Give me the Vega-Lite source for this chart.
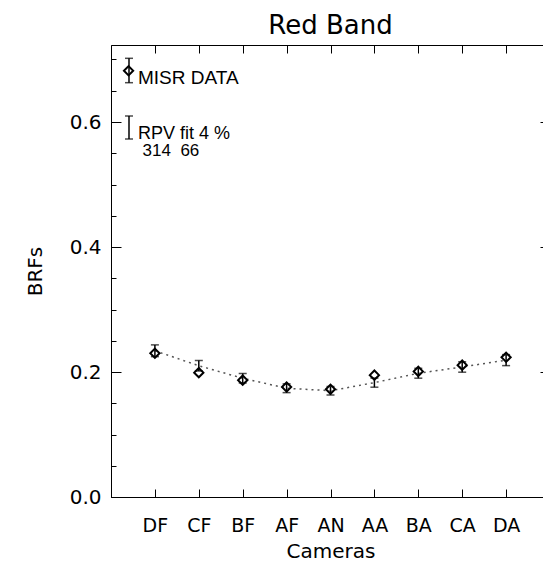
{
  "$schema": "https://vega.github.io/schema/vega-lite/v6.json",
  "width": 439,
  "height": 452,
  "autosize": {"type": "none"},
  "padding": {"left": 111, "top": 45, "right": 0, "bottom": 64},
  "background": "white",
  "title": {"text": "Red Band", "font": "DejaVu Sans", "fontSize": 26, "fontWeight": "normal", "color": "black", "offset": 6, "anchor": "middle"},
  "datasets": {
    "cams": [
      {"pos": 1, "cam": "DF", "data": 0.230, "fit": 0.234, "flo": 0.2246, "fhi": 0.2434},
      {"pos": 2, "cam": "CF", "data": 0.199, "fit": 0.210, "flo": 0.2016, "fhi": 0.2184},
      {"pos": 3, "cam": "BF", "data": 0.187, "fit": 0.190, "flo": 0.1824, "fhi": 0.1976},
      {"pos": 4, "cam": "AF", "data": 0.176, "fit": 0.174, "flo": 0.1670, "fhi": 0.1810},
      {"pos": 5, "cam": "AN", "data": 0.1725, "fit": 0.170, "flo": 0.1632, "fhi": 0.1768},
      {"pos": 6, "cam": "AA", "data": 0.195, "fit": 0.183, "flo": 0.1757, "fhi": 0.1903},
      {"pos": 7, "cam": "BA", "data": 0.201, "fit": 0.198, "flo": 0.1901, "fhi": 0.2059},
      {"pos": 8, "cam": "CA", "data": 0.211, "fit": 0.208, "flo": 0.1997, "fhi": 0.2163},
      {"pos": 9, "cam": "DA", "data": 0.2235, "fit": 0.219, "flo": 0.2102, "fhi": 0.2278}
    ],
    "legbars": [
      {"item": "MISR DATA", "pos": 0.41, "lo": 0.6629, "hi": 0.7019},
      {"item": "RPV fit", "pos": 0.41, "lo": 0.5728, "hi": 0.6096}
    ],
    "legpts": [
      {"item": "MISR DATA", "pos": 0.40, "val": 0.682}
    ],
    "legtext": [
      {"label": "MISR DATA", "pos": 0.615, "val": 0.6712, "size": 19},
      {"label": "RPV fit 4 %", "pos": 0.615, "val": 0.5813, "size": 18},
      {"label": "314 \u00a066", "pos": 0.72, "val": 0.5535, "size": 17}
    ]
  },
  "config": {
    "view": {"stroke": "black", "strokeWidth": 1},
    "axis": {"grid": false, "domainColor": "black", "tickColor": "black", "labelColor": "black", "titleColor": "black", "labelFont": "DejaVu Sans", "titleFont": "DejaVu Sans", "titleFontWeight": "normal", "tickWidth": 1, "domainWidth": 1}
  },
  "resolve": {"axis": {"x": "independent", "y": "independent"}},
  "layer": [
    {
      "data": {"name": "cams"},
      "mark": {"type": "line", "strokeDash": [2, 4], "color": "#555555", "strokeWidth": 1.5},
      "encoding": {
        "x": {"field": "pos", "type": "quantitative",
              "scale": {"domain": [0, 10], "nice": false, "zero": false},
              "axis": {"orient": "bottom", "values": [1, 2, 3, 4, 5, 6, 7, 8, 9],
                       "labelExpr": "['','DF','CF','BF','AF','AN','AA','BA','CA','DA'][datum.value]",
                       "tickSize": -8, "labelPadding": 27, "labelFontSize": 19,
                       "title": "Cameras", "titleFontSize": 20, "titlePadding": 6}},
        "y": {"field": "fit", "type": "quantitative",
              "scale": {"domain": [0, 0.7232], "nice": false, "zero": false},
              "axis": {"orient": "left", "values": [0, 0.2, 0.4, 0.6], "format": ".1f",
                       "tickSize": -10, "labelPadding": 20, "labelFontSize": 20,
                       "title": "BRFs", "titleFontSize": 20, "titlePadding": 24}}
      }
    },
    {
      "data": {"name": "cams"},
      "mark": {"type": "rule", "color": "black", "strokeWidth": 1.5},
      "encoding": {
        "x": {"field": "pos", "type": "quantitative",
              "axis": {"orient": "top", "values": [1, 2, 3, 4, 5, 6, 7, 8, 9], "labels": false,
                       "tickSize": -8, "domain": false, "title": null}},
        "y": {"field": "flo", "type": "quantitative",
              "axis": {"orient": "left", "values": [0.05, 0.1, 0.15, 0.25, 0.3, 0.35, 0.45, 0.5, 0.55, 0.65, 0.7],
                       "labels": false, "tickSize": -5, "domain": false, "title": null}},
        "y2": {"field": "fhi"}
      }
    },
    {
      "data": {"name": "cams"},
      "mark": {"type": "tick", "orient": "horizontal", "color": "black", "size": 8, "thickness": 1.5},
      "encoding": {
        "x": {"field": "pos", "type": "quantitative", "axis": null},
        "y": {"field": "flo", "type": "quantitative",
              "axis": {"orient": "right", "values": [0.2, 0.4, 0.6], "labels": false, "tickSize": -10, "domain": false, "title": null}}
      }
    },
    {
      "data": {"name": "cams"},
      "mark": {"type": "tick", "orient": "horizontal", "color": "black", "size": 8, "thickness": 1.5},
      "encoding": {
        "x": {"field": "pos", "type": "quantitative", "axis": null},
        "y": {"field": "fhi", "type": "quantitative", "axis": null}
      }
    },
    {
      "data": {"name": "cams"},
      "mark": {"type": "point", "shape": "diamond", "filled": false, "color": "black", "strokeWidth": 2, "size": 85, "opacity": 1},
      "encoding": {
        "x": {"field": "pos", "type": "quantitative", "axis": null},
        "y": {"field": "data", "type": "quantitative", "axis": null}
      }
    },
    {
      "data": {"name": "legbars"},
      "mark": {"type": "rule", "color": "black", "strokeWidth": 1.5},
      "encoding": {
        "x": {"field": "pos", "type": "quantitative", "axis": null},
        "y": {"field": "lo", "type": "quantitative", "axis": null},
        "y2": {"field": "hi"}
      }
    },
    {
      "data": {"name": "legbars"},
      "mark": {"type": "tick", "orient": "horizontal", "color": "black", "size": 8, "thickness": 1.5},
      "encoding": {
        "x": {"field": "pos", "type": "quantitative", "axis": null},
        "y": {"field": "lo", "type": "quantitative", "axis": null}
      }
    },
    {
      "data": {"name": "legbars"},
      "mark": {"type": "tick", "orient": "horizontal", "color": "black", "size": 8, "thickness": 1.5},
      "encoding": {
        "x": {"field": "pos", "type": "quantitative", "axis": null},
        "y": {"field": "hi", "type": "quantitative", "axis": null}
      }
    },
    {
      "data": {"name": "legpts"},
      "mark": {"type": "point", "shape": "diamond", "filled": false, "color": "black", "strokeWidth": 2, "size": 85, "opacity": 1},
      "encoding": {
        "x": {"field": "pos", "type": "quantitative", "axis": null},
        "y": {"field": "val", "type": "quantitative", "axis": null}
      }
    },
    {
      "data": {"name": "legtext"},
      "mark": {"type": "text", "align": "left", "baseline": "middle", "font": "Liberation Sans", "color": "black"},
      "encoding": {
        "x": {"field": "pos", "type": "quantitative", "axis": null},
        "y": {"field": "val", "type": "quantitative", "axis": null},
        "text": {"field": "label"},
        "size": {"field": "size", "type": "quantitative", "scale": null, "legend": null}
      }
    }
  ]
}
